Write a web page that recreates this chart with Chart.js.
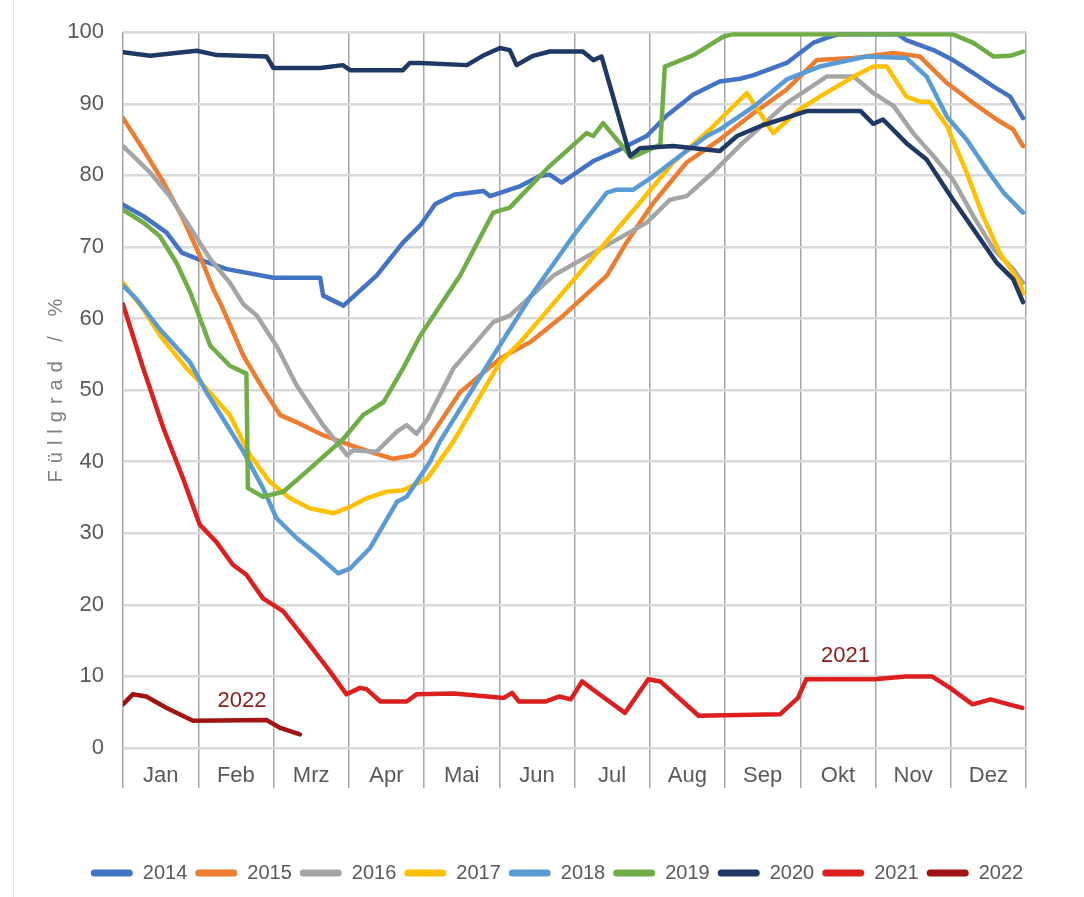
<!DOCTYPE html>
<html lang="de">
<head>
<meta charset="utf-8">
<title>Füllgrad</title>
<script src="https://cdn.jsdelivr.net/npm/chart.js@4.4.1/dist/chart.umd.min.js"></script>
<style>
  html, body { margin: 0; padding: 0; background: #fff; }
  #wrap { position: relative; width: 1084px; height: 897px; }
  #frame { position: absolute; left: 13px; top: 0; width: 1px; height: 897px; background: #e3e3e3; }
  canvas { display: block; }
</style>
</head>
<body>
<div id="wrap">
  <div id="frame"></div>
  <canvas id="chart" width="1084" height="897"></canvas>
</div>
<script>
  // x = Position im Jahr in Monaten (0 = Jahresanfang, 12 = Jahresende), y = Füllgrad in %
  var months = ['Jan', 'Feb', 'Mrz', 'Apr', 'Mai', 'Jun', 'Jul', 'Aug', 'Sep', 'Okt', 'Nov', 'Dez'];
  var years = ['2014', '2015', '2016', '2017', '2018', '2019', '2020', '2021', '2022'];

  var x2014 = [0, 0.27, 0.58, 0.78, 1.0, 1.38, 2.0, 2.62, 2.66, 2.93, 3.37, 3.72, 3.95, 4.15, 4.4, 4.79, 4.88, 5.28, 5.54, 5.67, 5.83, 6.25, 6.6, 6.96, 7.22, 7.58, 7.93, 8.2, 8.38, 8.82, 9.17, 9.35, 9.5, 10.3, 10.41, 10.77, 11.03, 11.3, 11.57, 11.79, 11.96];
  var y2014 = [75.9, 74.3, 72.0, 69.2, 68.3, 66.9, 65.7, 65.7, 63.2, 61.8, 66, 70.6, 73, 76, 77.3, 77.8, 77.1, 78.5, 79.9, 80.1, 79, 82, 83.6, 85.5, 88.3, 91.3, 93.1, 93.5, 94.0, 95.7, 98.5, 99.2, 99.7, 99.7, 98.9, 97.5, 96.1, 94.3, 92.4, 91, 88];

  var x2015 = [0, 0.27, 0.54, 0.8, 1.02, 1.2, 1.3, 1.6, 1.86, 2.09, 2.31, 2.66, 3.02, 3.37, 3.59, 3.86, 4.04, 4.48, 5.01, 5.41, 5.85, 6.43, 6.69, 7.05, 7.49, 7.93, 8.38, 8.82, 9.22, 9.71, 10.24, 10.59, 10.95, 11.3, 11.61, 11.83, 11.96];
  var y2015 = [88, 83.6, 79, 73.9, 68.8, 64.1, 62, 54.8, 50.2, 46.5, 45.5, 43.7, 42.3, 41.1, 40.4, 40.9, 42.8, 49.7, 54.4, 56.7, 60.4, 66, 70.6, 76.2, 81.8, 85, 88.7, 92, 96.1, 96.4, 97.1, 96.6, 92.9, 90.1, 87.8, 86.4, 84.1];

  var x2016 = [0, 0.36, 0.62, 0.85, 1.16, 1.42, 1.6, 1.78, 2.05, 2.31, 2.66, 2.98, 3.06, 3.37, 3.64, 3.77, 3.9, 4.05, 4.39, 4.92, 5.14, 5.72, 6.34, 6.96, 7.27, 7.49, 7.84, 8.2, 8.38, 8.82, 9.35, 9.71, 9.97, 10.24, 10.5, 10.77, 11.03, 11.3, 11.57, 11.83, 11.96];
  var y2016 = [84.1, 80.4, 77.1, 73.4, 68.3, 65, 62, 60.4, 56, 50.6, 45.1, 40.9, 41.6, 41.4, 44.2, 45.1, 43.9, 46, 53, 59.5, 60.4, 66, 69.7, 73.4, 76.6, 77.1, 80.4, 84.2, 85.9, 90.1, 93.8, 93.8, 91.5, 89.7, 85.9, 82.7, 79.4, 74.3, 69.7, 66.9, 65];

  var x2017 = [0, 0.27, 0.5, 0.85, 1.11, 1.42, 1.69, 1.95, 2.22, 2.48, 2.8, 3.02, 3.24, 3.5, 3.72, 4.04, 4.39, 5.01, 5.28, 5.81, 6.34, 6.83, 7.31, 7.8, 8.0, 8.29, 8.64, 8.99, 9.26, 9.71, 9.97, 10.15, 10.41, 10.59, 10.72, 10.95, 11.21, 11.43, 11.65, 11.92, 11.96];
  var y2017 = [65, 61.3, 57.5, 53, 50.2, 46.5, 40.9, 37.2, 34.9, 33.5, 32.8, 33.7, 34.9, 35.8, 36, 37.6, 42.8, 53.9, 56.7, 63.2, 69.7, 75.7, 81.8, 86.4, 88.5, 91.5, 85.9, 89.2, 91, 93.8, 95.2, 95.2, 91, 90.3, 90.3, 86.9, 80.4, 74.3, 69.2, 65, 63.5];

  var x2018 = [0, 0.18, 0.49, 0.89, 1.11, 1.33, 1.6, 1.86, 2.04, 2.31, 2.58, 2.86, 3.02, 3.28, 3.64, 3.77, 4.08, 4.21, 4.92, 5.45, 5.98, 6.43, 6.56, 6.78, 7.05, 7.4, 7.76, 7.93, 8.38, 8.82, 9.26, 9.88, 10.41, 10.68, 10.95, 11.21, 11.48, 11.7, 11.96];
  var y2018 = [64.6, 62.7, 58.5, 53.9, 49.7, 46, 41.4, 36.3, 32.1, 29.3, 27, 24.4, 25.1, 27.9, 34.4, 35.1, 40, 42.8, 54.8, 63.6, 71.5, 77.6, 78, 78, 79.9, 82.7, 85.5, 86.4, 89.6, 93.4, 95.2, 96.6, 96.4, 93.8, 88.2, 85, 80.8, 77.6, 74.8];

  var x2019 = [0, 0.27, 0.49, 0.71, 0.9, 1.16, 1.42, 1.64, 1.66, 1.86, 2.13, 2.48, 2.93, 3.19, 3.46, 3.72, 3.95, 4.48, 4.92, 5.14, 5.67, 6.16, 6.25, 6.38, 6.76, 7.14, 7.2, 7.58, 7.98, 8.1, 11.03, 11.3, 11.57, 11.79, 11.96];
  var y2019 = [75.2, 73.4, 71.5, 67.8, 63.5, 56.2, 53.4, 52.3, 36.3, 35.1, 35.8, 39, 43.2, 46.5, 48.3, 53, 57.6, 66, 74.8, 75.5, 81.3, 85.9, 85.5, 87.3, 82.5, 84.3, 95.2, 96.8, 99.4, 99.7, 99.7, 98.5, 96.6, 96.7, 97.3];

  var x2020 = [0, 0.36, 0.98, 1.25, 1.91, 2.0, 2.62, 2.92, 3.02, 3.72, 3.81, 3.95, 4.57, 4.78, 5.01, 5.14, 5.23, 5.45, 5.67, 6.11, 6.25, 6.36, 6.74, 6.87, 7.31, 7.93, 8.16, 8.5, 8.8, 9.0, 9.1, 9.8, 9.97, 10.1, 10.41, 10.68, 11.03, 11.3, 11.61, 11.83, 11.96];
  var y2020 = [97.2, 96.7, 97.4, 96.8, 96.6, 95.0, 95.0, 95.4, 94.7, 94.7, 95.7, 95.7, 95.4, 96.7, 97.8, 97.5, 95.4, 96.7, 97.3, 97.3, 96.1, 96.6, 82.7, 83.8, 84.1, 83.4, 85.5, 87, 88, 88.7, 89, 89, 87.2, 87.8, 84.5, 82.2, 76.6, 72.5, 67.8, 65.5, 62.3];

  var x2021 = [0, 0.27, 0.54, 0.8, 1.02, 1.24, 1.46, 1.64, 1.86, 2.13, 2.48, 2.75, 2.97, 3.15, 3.24, 3.42, 3.77, 3.9, 4.4, 5.06, 5.17, 5.26, 5.62, 5.8, 5.95, 6.1, 6.28, 6.67, 6.98, 7.14, 7.65, 8.73, 8.97, 9.08, 9.98, 10.4, 10.75, 10.99, 11.29, 11.53, 11.77, 11.95];
  var y2021 = [62, 53, 44.6, 37.6, 31.2, 28.8, 25.6, 24.2, 20.9, 19.1, 14.4, 10.7, 7.5, 8.4, 8.2, 6.5, 6.5, 7.5, 7.6, 7.0, 7.7, 6.5, 6.5, 7.2, 6.8, 9.3, 7.9, 4.9, 9.6, 9.3, 4.5, 4.7, 7, 9.6, 9.6, 10, 10, 8.4, 6.1, 6.8, 6.1, 5.6];

  var x2022 = [0, 0.13, 0.31, 0.58, 0.93, 1.91, 2.09, 2.35];
  var y2022 = [6.1, 7.5, 7.2, 5.6, 3.8, 3.9, 2.8, 1.9];

  // Beschriftungen im Diagramm
  var noteLabels = ['2021', '2022'];
  var noteX = [9.6, 1.58];
  var noteY = [12.8, 6.6];

  var seriesX = [x2014, x2015, x2016, x2017, x2018, x2019, x2020, x2021, x2022];
  var seriesY = [y2014, y2015, y2016, y2017, y2018, y2019, y2020, y2021, y2022];
  var lineColors = ['#4472c4', '#ed7d31', '#a5a5a5', '#ffc000', '#5b9bd5', '#70ad47', '#1f3864', '#dc2020', '#a01414'];
  var noteColor = '#8c1c1c';

  var FONT = "'Liberation Sans', Arial, sans-serif";
  var TEXT = '#595959';

  function toPoints(xs, ys) {
    return xs.map(function(x, i) { return { x: x, y: ys[i] }; });
  }

  var datasets = years.map(function(year, i) {
    return {
      label: year,
      data: toPoints(seriesX[i], seriesY[i]),
      borderColor: lineColors[i],
      backgroundColor: lineColors[i],
      borderWidth: 4.5,
      pointRadius: 0,
      tension: 0,
      borderCapStyle: 'round',
      borderJoinStyle: 'round',
      order: years.length - i
    };
  });

  // y axis title with letter spacing
  var yTitlePlugin = {
    id: 'yTitle',
    afterDraw: function(chart) {
      var ctx = chart.ctx;
      var area = chart.chartArea;
      ctx.save();
      ctx.translate(56, (area.top + area.bottom) / 2);
      ctx.rotate(-Math.PI / 2);
      ctx.font = '20px ' + FONT;
      ctx.letterSpacing = '7px';
      ctx.fillStyle = '#7f7f7f';
      ctx.textAlign = 'center';
      ctx.textBaseline = 'middle';
      ctx.fillText('Füllgrad / %', 3, 0);
      ctx.restore();
    }
  };

  // year labels next to the lines
  var notesPlugin = {
    id: 'notes',
    afterDatasetsDraw: function(chart) {
      var ctx = chart.ctx;
      var xs = chart.scales.x, ys = chart.scales.y;
      ctx.save();
      ctx.font = '22px ' + FONT;
      ctx.fillStyle = noteColor;
      ctx.textAlign = 'center';
      ctx.textBaseline = 'middle';
      noteLabels.forEach(function(t, i) {
        ctx.fillText(t, xs.getPixelForValue(noteX[i]), ys.getPixelForValue(noteY[i]));
      });
      ctx.restore();
    }
  };

  new Chart(document.getElementById('chart'), {
    type: 'line',
    data: { datasets: datasets },
    plugins: [yTitlePlugin, notesPlugin],
    options: {
      responsive: false,
      animation: false,
      events: [],
      layout: { padding: { left: 30, right: 0, top: 27, bottom: 4 } },
      plugins: {
        legend: {
          position: 'bottom',
          labels: {
            boxWidth: 42,
            boxHeight: 7,
            padding: 8,
            color: TEXT,
            font: { family: FONT, size: 20 },
            useBorderRadius: true,
            borderRadius: 3.5,
            sort: function(a, b) { return a.datasetIndex - b.datasetIndex; },
            generateLabels: function(chart) {
              var items = Chart.defaults.plugins.legend.labels.generateLabels(chart);
              items.forEach(function(it) { it.lineWidth = 0; });
              return items;
            }
          }
        },
        tooltip: { enabled: false }
      },
      scales: {
        x: {
          type: 'linear',
          min: 0,
          max: 12,
          border: { display: false },
          grid: {
            color: function(c) {
              return c.tick && Number.isInteger(c.tick.value) ? '#a6a6a6' : 'rgba(0,0,0,0)';
            },
            lineWidth: 1.5,
            drawTicks: true,
            tickLength: 40
          },
          ticks: {
            stepSize: 0.5,
            autoSkip: false,
            maxRotation: 0,
            padding: -25,
            color: TEXT,
            font: { family: FONT, size: 22 },
            callback: function(value) {
              return Number.isInteger(value) ? '' : months[Math.floor(value)];
            }
          },
          afterFit: function(s) { s.height = 107; }
        },
        y: {
          min: 0,
          max: 100,
          border: { display: false },
          grid: { color: '#d9d9d9', lineWidth: 2.5, drawTicks: false },
          ticks: {
            stepSize: 10,
            padding: 19,
            color: TEXT,
            font: { family: FONT, size: 22 }
          },
          afterFit: function(s) { s.width = 93; }
        },
        yr: {
          position: 'right',
          border: { display: false },
          grid: { display: false },
          ticks: { display: false },
          afterFit: function(s) { s.width = 58; }
        }
      }
    }
  });
</script>
</body>
</html>
